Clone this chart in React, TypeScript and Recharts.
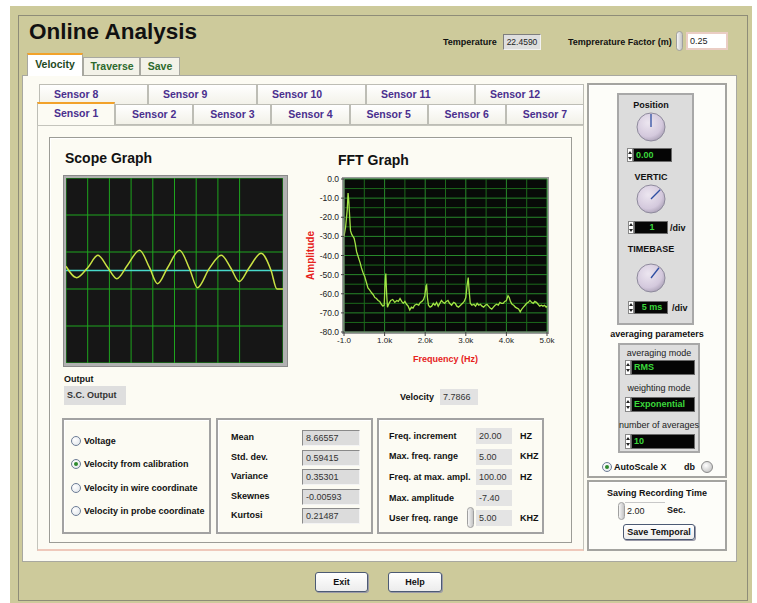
import type { CSSProperties, ReactNode } from "react";
import { CartesianGrid, Label, Line, LineChart, ReferenceLine, XAxis, YAxis } from "recharts";

// scope trace in grid divisions (x: 0..10, y: -5..5)
const scopeDiv = [0, 0.49, 1.0, 1.47, 1.93, 2.34, 2.84, 3.39, 3.85, 4.22, 4.68, 5.23, 5.69, 6.06, 6.6, 7.16, 7.6, 7.98, 8.44, 8.99, 9.45, 9.72, 10];
const scopeLevel = [0.23, -0.39, 0.15, 0.82, 0.15, -0.44, 0.3, 1.1, 0.15, -0.71, 0.15, 1.1, 0.1, -0.93, 0.1, 0.82, 0.12, -0.6, 0.15, 0.93, 0, -1.0, -1.0];
const scopeXTicks = [0, 1, 2, 3, 4, 5, 6, 7, 8, 9, 10];
const scopeYTicks = [-5, -4, -3, -2, -1, 0, 1, 2, 3, 4, 5];

// FFT spectrum (Hz, dB)
const fftFreq = [
  0, 40, 80, 100, 120, 140, 160, 190, 220, 250, 280, 310, 340, 370, 400, 430, 470, 510, 550, 590, 630, 680, 720, 760, 800,
  840, 880, 920, 960, 990, 1010, 1030, 1050, 1070, 1110, 1150, 1200, 1250, 1300, 1340, 1380, 1420, 1460, 1500, 1540, 1580,
  1620, 1660, 1700, 1740, 1790, 1840, 1880, 1920, 1960, 1990, 2020, 2035, 2055, 2080, 2120, 2160, 2200, 2240, 2280, 2320,
  2360, 2400, 2440, 2480, 2520, 2560, 2600, 2650, 2700, 2740, 2780, 2820, 2870, 2920, 2960, 3000, 3030, 3060, 3080, 3110,
  3150, 3200, 3240, 3280, 3320, 3360, 3400, 3440, 3480, 3520, 3560, 3600, 3640, 3680, 3720, 3760, 3800, 3840, 3880, 3920,
  3960, 4000, 4040, 4070, 4100, 4140, 4180, 4220, 4260, 4300, 4340, 4380, 4420, 4460, 4500, 4540, 4580, 4620, 4660, 4700,
  4740, 4780, 4820, 4860, 4900, 4940, 4980, 5000,
];
const fftAmp = [
  -30, -25, -16, -7.4, -12, -20, -27, -29, -30, -31, -34, -38, -40, -42, -44, -46.5, -49, -51, -54, -57, -58, -59.5, -60.5, -62, -62.5,
  -63.5, -64, -65.5, -66.5, -66, -55, -49.4, -60, -67, -65, -63.5, -63, -64.5, -63.5, -64, -62.5, -64, -65, -64, -65.5, -66.5,
  -68.5, -67, -67.5, -66, -65.5, -66, -64.5, -64, -63, -61, -56, -55.5, -62, -66, -67, -66.5, -65, -66, -64.5, -66.5,
  -65, -63.5, -64.5, -65, -64, -63.5, -65, -66, -64.5, -65, -66.5, -67, -66, -65, -64, -62, -56, -51.5, -58, -65,
  -66, -65.5, -66.5, -65, -66, -65.5, -66.5, -67, -66, -65.5, -66.5, -67.5, -68, -67, -66, -65.5, -66, -64.5, -65, -65,
  -64, -63.5, -61, -62, -64, -65.5, -66, -67, -67.5, -68, -69.5, -68, -67, -66, -65, -64.5, -63.5, -64.5, -65, -64,
  -64.5, -65.5, -66.5, -66, -66.5, -66, -67, -66.5,
];
const fftXTicks = [0, 1000, 2000, 3000, 4000, 5000];
const fftXLabels = ["-1.0", "1.0k", "2.0k", "3.0k", "4.0k", "5.0k"];
const fftYTicks = [0, -10, -20, -30, -40, -50, -60, -70, -80];
const fftMinorX = [500, 1500, 2500, 3500, 4500];
const fftMinorY = [-5, -15, -25, -35, -45, -55, -65, -75];

const sensorsTop = ["Sensor 8", "Sensor 9", "Sensor 10", "Sensor 11", "Sensor 12"];
const sensorsBottom = ["Sensor 1", "Sensor 2", "Sensor 3", "Sensor 4", "Sensor 5", "Sensor 6", "Sensor 7"];
const outputModes = ["Voltage", "Velocity from calibration", "Velocity in wire coordinate", "Velocity in probe coordinate"];
const statNames = ["Mean", "Std. dev.", "Variance", "Skewnes", "Kurtosi"];
const statValues = ["8.66557", "0.59415", "0.35301", "-0.00593", "0.21487"];
const freqNames = ["Freq. increment", "Max. freq. range", "Freq. at max. ampl.", "Max. amplitude", "User freq. range"];
const freqValues = ["20.00", "5.00", "100.00", "-7.40", "5.00"];
const freqUnits = ["HZ", "KHZ", "HZ", "", "KHZ"];

const F = "Arial, 'Liberation Sans', Helvetica, sans-serif";
const KHAKI = "#cdca9b";
const CREAM = "#fcfbf3";

const at = (x: number, y: number, w: number, h: number): CSSProperties => ({
  position: "absolute",
  left: x,
  top: y,
  width: w,
  height: h,
  boxSizing: "border-box",
});

function Txt({ x, y, s = 9, w = 700, c = "#111", a = "left", children }: { x: number; y: number; s?: number; w?: number; c?: string; a?: string; children: ReactNode }) {
  const shift = a === "center" ? "translateX(-50%)" : a === "right" ? "translateX(-100%)" : "none";
  return (
    <div style={{ position: "absolute", left: x, top: y - s * 0.58, fontSize: s, fontWeight: w, color: c, lineHeight: `${Math.round(s * 1.15)}px`, whiteSpace: "nowrap", transform: shift }}>
      {children}
    </div>
  );
}

function Spin({ x, y, h }: { x: number; y: number; h: number }) {
  return <div style={{ ...at(x, y, 7, h), borderRadius: 4, border: "1px solid #a0a0a0", background: "linear-gradient(90deg,#f6f6f6,#c4c4c4)" }} />;
}

function MiniSpin({ x, y, h }: { x: number; y: number; h: number }) {
  const tri = (up: boolean): CSSProperties => ({
    width: 0,
    height: 0,
    borderLeft: "2px solid transparent",
    borderRight: "2px solid transparent",
    [up ? "borderBottom" : "borderTop"]: "3px solid #222",
  });
  return (
    <div style={{ ...at(x, y, 6, h), background: "#fff", border: "1px solid #888", display: "flex", flexDirection: "column", alignItems: "center", justifyContent: "space-around" }}>
      <div style={tri(true)} />
      <div style={tri(false)} />
    </div>
  );
}

function Lcd({ x, y, w, h, text, center }: { x: number; y: number; w: number; h: number; text: string; center?: boolean }) {
  return (
    <>
      <MiniSpin x={x - 6} y={y} h={h} />
      <div style={{ ...at(x, y, w, h), background: "#050505", border: "1px solid #6a6a6a", color: "#3bd83b", fontSize: 9, fontWeight: 700, lineHeight: `${h - 2}px`, paddingLeft: 2, textAlign: center ? "center" : "left" }}>
        {text}
      </div>
    </>
  );
}

function Field({ x, y, w, h = 16, text, bold, bg = "#dcdcdc", flat }: { x: number; y: number; w: number; h?: number; text: string; bold?: boolean; bg?: string; flat?: boolean }) {
  return (
    <div style={{ ...at(x, y, w, h), background: bg, border: flat ? "none" : "1px solid", borderColor: "#8a8a8a #f4f4f4 #f4f4f4 #8a8a8a", fontSize: 9, fontWeight: bold ? 700 : 400, color: "#333", lineHeight: `${flat ? h : h - 2}px`, paddingLeft: 3 }}>
      {text}
    </div>
  );
}

function Group({ x, y, w, h }: { x: number; y: number; w: number; h: number }) {
  return <div style={{ ...at(x, y, w, h), border: "2px solid #a2a2a2", boxShadow: "inset 1px 1px 0 #ffffff" }} />;
}

function Radio({ x, y, on }: { x: number; y: number; on?: boolean }) {
  return (
    <div style={{ ...at(x - 5, y - 5, 10, 10), borderRadius: "50%", border: "1px solid #6d7d96", background: "radial-gradient(circle at 35% 35%, #ffffff, #dde2e8)", display: "flex", alignItems: "center", justifyContent: "center" }}>
      {on && <div style={{ width: 4, height: 4, borderRadius: "50%", background: "#2d8a2d" }} />}
    </div>
  );
}

function Knob({ cx, cy, angle }: { cx: number; cy: number; angle: number }) {
  const r = (angle * Math.PI) / 180;
  return (
    <svg style={{ position: "absolute", left: cx - 16, top: cy - 16 }} width={32} height={32}>
      <defs>
        <radialGradient id={`k${cy}`} cx="40%" cy="35%" r="70%">
          <stop offset="0%" stopColor="#ece6f0" />
          <stop offset="70%" stopColor="#d4c9dd" />
          <stop offset="100%" stopColor="#aaa0b6" />
        </radialGradient>
      </defs>
      <circle cx={16} cy={16} r={14} fill={`url(#k${cy})`} stroke="#8e8a9c" />
      <line x1={16} y1={16} x2={16 + 13 * Math.sin(r)} y2={16 - 13 * Math.cos(r)} stroke="#2e4ea2" strokeWidth={1.3} />
    </svg>
  );
}

function Btn({ x, y, w, h, label }: { x: number; y: number; w: number; h: number; label: string }) {
  return (
    <div style={{ ...at(x, y, w, h), background: "linear-gradient(#ffffff,#ececec)", border: "1px solid #4c5a74", borderRadius: 3, boxShadow: "1px 1px 0 #9a9aa8", fontSize: 9, fontWeight: 700, textAlign: "center", lineHeight: `${h - 2}px`, color: "#111" }}>
      {label}
    </div>
  );
}

function ScopeGraph() {
  const rows = scopeDiv.map((t, i) => ({ t, v: scopeLevel[i] }));
  return (
    <div style={{ position: "absolute", left: 66, top: 178 }}>
      <LineChart width={217} height={185} data={rows} margin={{ top: 0, right: 0, bottom: 0, left: 0 }}>
        <CartesianGrid stroke="#1ea41e" fill="#161616" fillOpacity={1} />
        <XAxis dataKey="t" type="number" domain={[0, 10]} ticks={scopeXTicks} hide />
        <YAxis type="number" domain={[-5, 5]} ticks={scopeYTicks} hide />
        <ReferenceLine y={0} stroke="#48d9ca" strokeWidth={1.3} />
        <Line dataKey="v" type="monotone" stroke="#c9e243" strokeWidth={1.5} dot={false} isAnimationActive={false} />
      </LineChart>
    </div>
  );
}

function FftGraph() {
  const rows = fftFreq.map((f, i) => ({ f, a: fftAmp[i] }));
  return (
    <div style={{ position: "absolute", left: 300, top: 170 }}>
      <LineChart width={255} height={200} data={rows} margin={{ top: 9, right: 8, bottom: 6, left: 5 }}>
        <CartesianGrid stroke="#27892a" fill="#080a08" fillOpacity={1} />
        {fftMinorX.map((v) => (
          <ReferenceLine key={`mx${v}`} x={v} stroke="#1c6a1c" />
        ))}
        {fftMinorY.map((v) => (
          <ReferenceLine key={`my${v}`} y={v} stroke="#1c6a1c" />
        ))}
        <XAxis
          dataKey="f"
          type="number"
          domain={[0, 5000]}
          ticks={fftXTicks}
          interval={0}
          tickFormatter={(v: number) => fftXLabels[fftXTicks.indexOf(v)]}
          height={32}
          tickSize={4}
          tickMargin={1}
          tick={{ fontSize: 8, fill: "#222" }}
          axisLine={{ stroke: "#8a8a8a" }}
          tickLine={{ stroke: "#444" }}
        >
          <Label value="Frequency (Hz)" position="insideBottom" offset={2} style={{ fill: "#e6221c", fontSize: 9, fontWeight: 700 }} />
        </XAxis>
        <YAxis
          type="number"
          domain={[-80, 0]}
          ticks={fftYTicks}
          interval={0}
          tickFormatter={(v: number) => v.toFixed(1)}
          width={39}
          tickSize={3}
          tickMargin={2}
          tick={{ fontSize: 8.5, fill: "#222" }}
          axisLine={{ stroke: "#8a8a8a" }}
          tickLine={{ stroke: "#444" }}
        >
          <Label value="Amplitude" angle={-90} position="insideLeft" offset={5} style={{ textAnchor: "middle", fill: "#e6221c", fontSize: 10, fontWeight: 700 }} />
        </YAxis>
        <Line dataKey="a" type="linear" stroke="#a3e445" strokeWidth={1.3} dot={false} isAnimationActive={false} />
      </LineChart>
    </div>
  );
}

export default function App() {
  return (
    <div style={{ position: "absolute", left: 0, top: 0, width: 757, height: 603, background: "#fff", overflow: "hidden", fontFamily: F }}>
      {/* window frame */}
      <div style={{ ...at(10, 6, 742, 597), background: KHAKI }} />
      <div style={{ ...at(18, 15, 730, 586), border: "1px solid #8e8c78" }} />

      <div style={{ position: "absolute", left: 29, top: 19, fontSize: 22.5, fontWeight: 700, color: "#111", lineHeight: "26px", whiteSpace: "nowrap" }}>Online Analysis</div>

      <Txt x={443} y={42}>Temperature</Txt>
      <div style={{ ...at(503, 34, 38, 16), background: "#dedede", border: "1px solid", borderColor: "#7e7e7e #f2f2f2 #f2f2f2 #7e7e7e", fontSize: 8.5, lineHeight: "14px", textAlign: "center", color: "#222" }}>22.4590</div>
      <Txt x={568} y={42}>Temprerature Factor (m)</Txt>
      <Spin x={676} y={31} h={20} />
      <div style={{ ...at(686, 32, 42, 18), background: "#fff", border: "2px solid #eacdc4", fontSize: 9, lineHeight: "14px", paddingLeft: 2, color: "#222" }}>0.25</div>

      {/* main panel + tabs */}
      <div style={{ ...at(22, 75, 715, 487), background: CREAM, border: "1px solid #a8a8a0" }} />
      <div style={{ ...at(83, 57, 57, 19), background: "#f3f2e8", border: "1px solid #a8a8a0" }} />
      <div style={{ ...at(140, 57, 40, 19), background: "#f3f2e8", border: "1px solid #a8a8a0" }} />
      <div style={{ ...at(27, 53, 56, 23), background: "#ffffff", border: "1px solid #a8a8a0", borderTop: "2px solid #f2a22a", borderBottom: "none" }} />
      <Txt x={55} y={64} s={10.5} c="#1d4a1d" a="center">Velocity</Txt>
      <Txt x={112} y={66} s={10.5} c="#2d6a2d" a="center">Traverse</Txt>
      <Txt x={160} y={66} s={10.5} c="#2d6a2d" a="center">Save</Txt>

      {/* sensor tab panel */}
      <div style={{ ...at(37, 125, 547, 426), background: CREAM, border: "1px solid #c4c4bc", borderBottom: "2px solid #efc9bb" }} />
      <div style={{ ...at(39, 84, 545, 21), display: "flex" }}>
        {sensorsTop.map((s) => (
          <div key={s} style={{ flex: 1, boxSizing: "border-box", border: "1px solid #bdbdb5", borderBottom: "none", background: "linear-gradient(#ffffff,#f2f1e8)", fontSize: 10.5, fontWeight: 700, color: "#4a2f8e", lineHeight: "19px", paddingLeft: 14 }}>
            {s}
          </div>
        ))}
      </div>
      <div style={{ ...at(37, 104, 547, 21), display: "flex" }}>
        {sensorsBottom.map((s, i) => (
          <div
            key={s}
            style={{
              flex: 1,
              boxSizing: "border-box",
              border: "1px solid #bdbdb5",
              borderTop: i === 0 ? "2px solid #f2a22a" : "1px solid #bdbdb5",
              borderBottom: i === 0 ? "none" : "1px solid #bdbdb5",
              background: i === 0 ? CREAM : "linear-gradient(#ffffff,#f2f1e8)",
              marginTop: i === 0 ? -2 : 0,
              height: i === 0 ? 23 : 21,
              fontSize: 10.5,
              fontWeight: 700,
              color: "#4a2f8e",
              lineHeight: "18px",
              textAlign: "center",
            }}
          >
            {s}
          </div>
        ))}
      </div>

      <div style={{ ...at(49, 137, 523, 406), border: "1px solid #9c9c96", boxShadow: "inset 1px 1px 0 #ffffff" }} />

      {/* graphs */}
      <div style={{ position: "absolute", left: 65, top: 150, fontSize: 14, fontWeight: 700, color: "#111", lineHeight: "17px" }}>Scope Graph</div>
      <div style={{ position: "absolute", left: 338, top: 152, fontSize: 14, fontWeight: 700, color: "#111", lineHeight: "17px" }}>FFT Graph</div>
      <div style={{ ...at(63, 175, 225, 192), background: "#b1b1b1", border: "1px solid #8a8a8a" }} />
      <ScopeGraph />
      <div style={{ ...at(342, 177, 207, 157), background: "#9a9a9a" }} />
      <FftGraph />

      <Txt x={64} y={379}>Output</Txt>
      <Field x={64} y={386} w={62} h={19} text="S.C. Output" bold bg="#dedede" flat />
      <Txt x={400} y={397}>Velocity</Txt>
      <Field x={440} y={389} w={38} h={16} text="7.7866" bg="#e2e2e2" flat />

      <Group x={62} y={418} w={149} h={116} />
      <Group x={216} y={418} w={157} h={116} />
      <Group x={377} y={418} w={167} h={116} />

      {outputModes.map((m, i) => (
        <div key={m}>
          <Radio x={76} y={441 + i * 23.4} on={i === 1} />
          <Txt x={84} y={441 + i * 23.4}>{m}</Txt>
        </div>
      ))}

      {statNames.map((n, i) => (
        <div key={n}>
          <Txt x={231} y={437.5 + i * 19.5}>{n}</Txt>
          <Field x={302} y={430 + i * 19.6} w={58} h={16} text={statValues[i]} />
        </div>
      ))}

      {freqNames.map((n, i) => (
        <div key={n}>
          <Txt x={389} y={436 + i * 20.6}>{n}</Txt>
          {i === 4 && <Spin x={467} y={507} h={21} />}
          <Field x={476} y={428 + i * 20.6} w={36} h={16} text={freqValues[i]} bg="#e4e4e4" flat />
          {freqUnits[i] && <Txt x={520} y={436 + i * 20.6}>{freqUnits[i]}</Txt>}
        </div>
      ))}

      {/* right control panel */}
      <div style={{ ...at(587, 83, 140, 395), background: "#fdfdf9", border: "2px solid #a4a4a0", boxShadow: "inset 1px 1px 0 #ffffff" }} />
      <div style={{ ...at(617, 93, 77, 232), background: "#dcdcdc", border: "2px solid #a8a8a8" }} />
      <Txt x={651} y={105} a="center">Position</Txt>
      <Knob cx={651} cy={127} angle={0} />
      <Lcd x={633} y={148} w={39} h={14} text="0.00" />
      <Txt x={651} y={177} a="center">VERTIC</Txt>
      <Knob cx={651} cy={199} angle={45} />
      <Lcd x={634} y={221} w={34} h={13} text="1" center />
      <Txt x={670} y={228}>/div</Txt>
      <Txt x={651} y={249} a="center">TIMEBASE</Txt>
      <Knob cx={651} cy={278} angle={38} />
      <Lcd x={634} y={301} w={34} h={13} text="5 ms" center />
      <Txt x={672} y={308}>/div</Txt>

      <Txt x={657} y={334} a="center">averaging parameters</Txt>
      <div style={{ ...at(618, 343, 82, 110), background: "#dedede", border: "2px solid #a8a8a8" }} />
      <Txt x={659} y={353} w={400} c="#222" a="center">averaging mode</Txt>
      <Lcd x={631} y={360} w={64} h={15} text="RMS" />
      <Txt x={659} y={388} w={400} c="#222" a="center">weighting mode</Txt>
      <Lcd x={631} y={397} w={64} h={15} text="Exponential" />
      <Txt x={659} y={425} w={400} c="#222" a="center">number of averages</Txt>
      <Lcd x={631} y={434} w={64} h={15} text="10" />
      <Radio x={607} y={467} on />
      <Txt x={614} y={467}>AutoScale X</Txt>
      <Txt x={684} y={467}>db</Txt>
      <div style={{ ...at(701, 461, 12, 12), borderRadius: "50%", border: "1px solid #8a8a8a", background: "radial-gradient(circle at 40% 35%, #ffffff, #b8b8b8)" }} />

      <div style={{ ...at(587, 480, 140, 71), background: "#fdfdf9", border: "2px solid #a4a4a0", boxShadow: "inset 1px 1px 0 #ffffff" }} />
      <Txt x={657} y={493} a="center">Saving Recording Time</Txt>
      <Spin x={618} y={502} h={18} />
      <div style={{ ...at(625, 502, 40, 17), borderTop: "1px solid #c8c8c8", fontSize: 9, lineHeight: "16px", paddingLeft: 2, color: "#222" }}>2.00</div>
      <Txt x={667} y={510}>Sec.</Txt>
      <Btn x={623} y={524} w={72} h={16} label="Save Temporal" />

      <Btn x={315} y={572} w={53} h={20} label="Exit" />
      <Btn x={388} y={572} w={54} h={20} label="Help" />
    </div>
  );
}
